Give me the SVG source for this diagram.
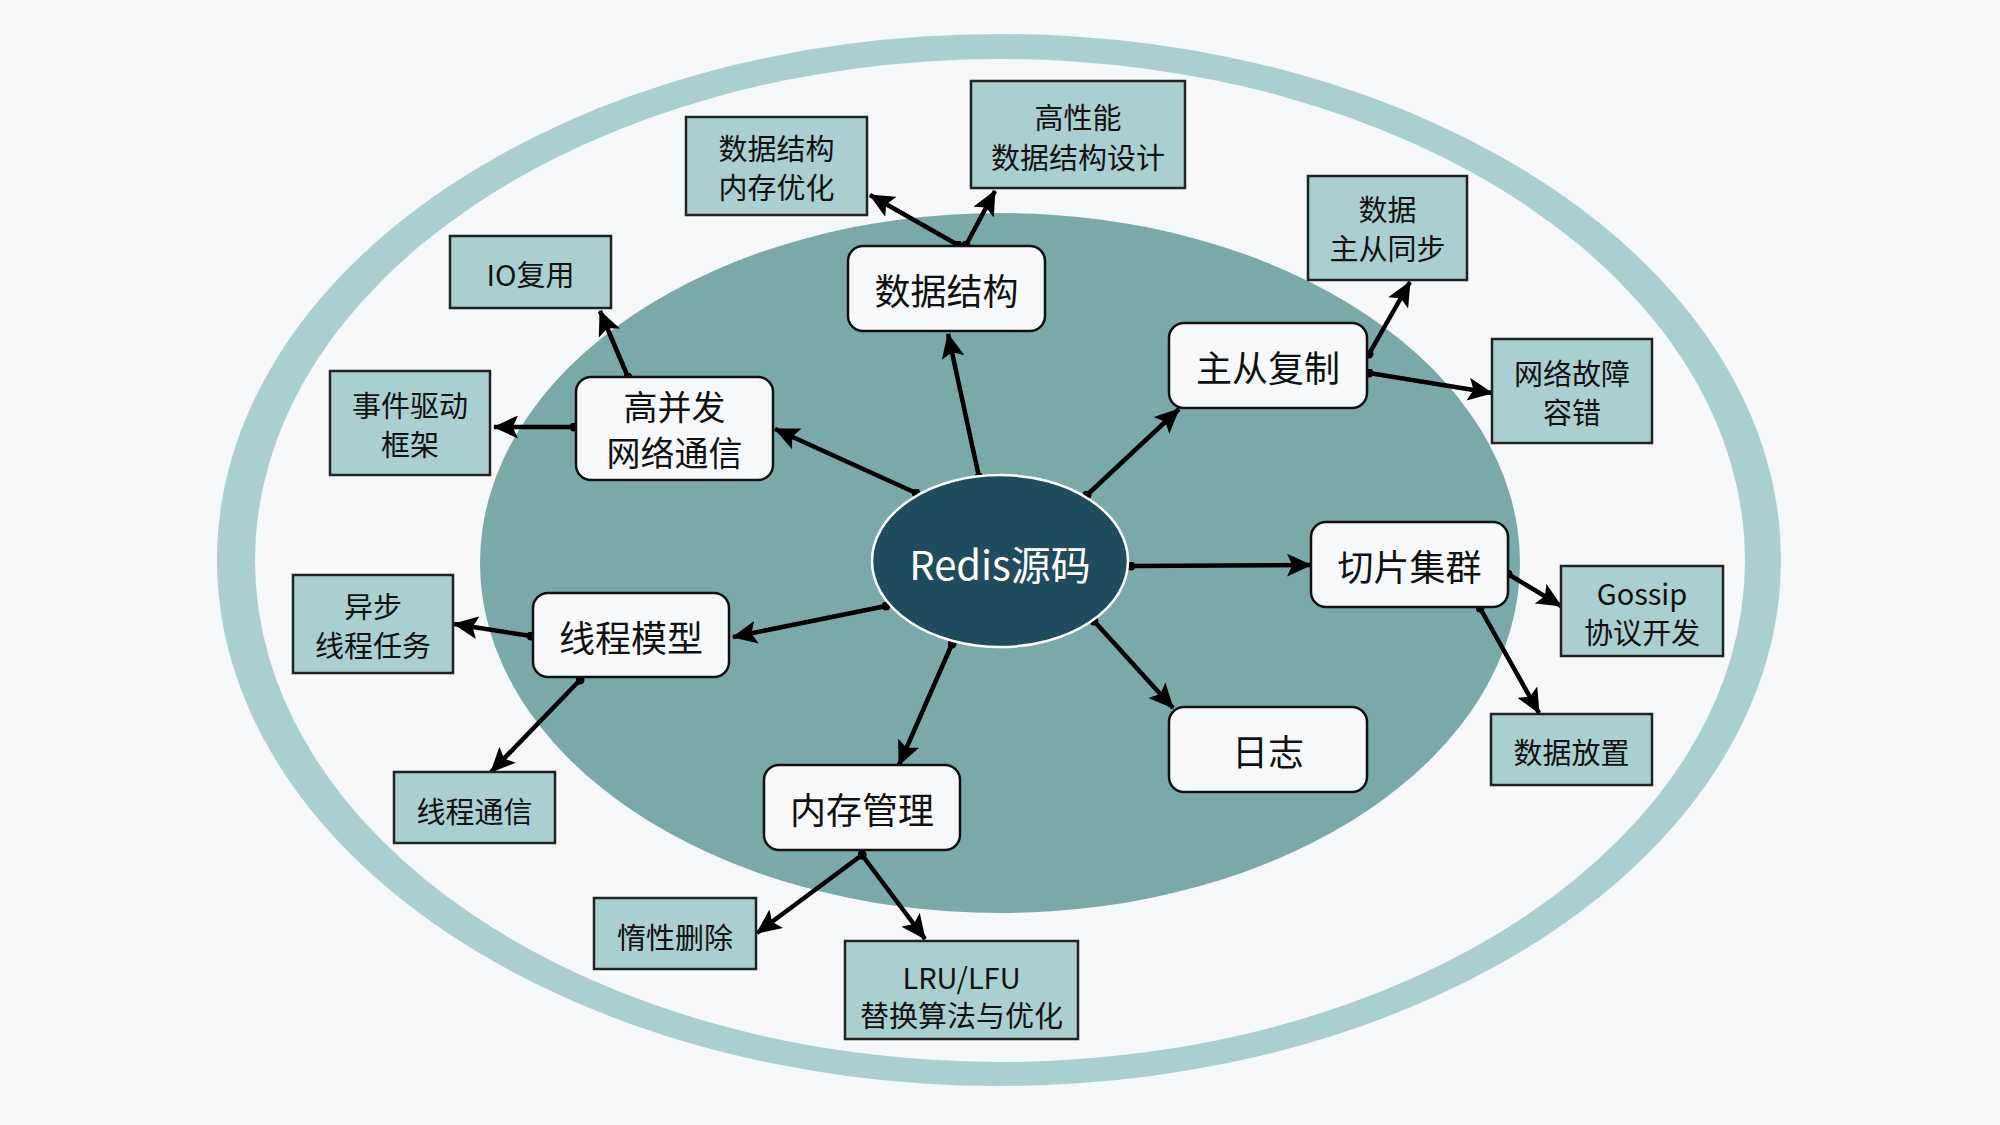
<svg xmlns="http://www.w3.org/2000/svg" width="2000" height="1125" viewBox="0 0 2000 1125">
<defs>
<marker id="arr" viewBox="0 0 24 22" refX="23" refY="11" markerWidth="25" markerHeight="23" markerUnits="userSpaceOnUse" orient="auto">
<path d="M0,0 L24,11 L0,22 L5,11 z" fill="#000"/>
</marker>
<marker id="dot" viewBox="0 0 10 10" refX="5" refY="5" markerWidth="9" markerHeight="9" markerUnits="userSpaceOnUse">
<circle cx="5" cy="5" r="5" fill="#000"/>
</marker>
<style>
.main rect{fill:#f6f8f9;stroke:#111;stroke-width:2.5}
.leaf rect{fill:#aacfd0;stroke:#222;stroke-width:2.5}
text{font-family:"Noto Sans CJK SC","Noto Sans",sans-serif;text-anchor:middle;dominant-baseline:central;fill:#111}
.main text{font-size:36px}
.main text.two{font-size:34px}
.leaf text{font-size:29px}
#edges line{stroke:#000;stroke-width:4.5;marker-end:url(#arr);marker-start:url(#dot)}
</style>
</defs>
<rect x="0" y="0" width="2000" height="1125" fill="#f5f7f8"/>
<ellipse cx="999" cy="560" rx="782" ry="526" fill="#aacfd0"/>
<ellipse cx="1000" cy="560.5" rx="745" ry="501.5" fill="#f5f7f8"/>
<ellipse cx="1000" cy="563" rx="520" ry="350" fill="#7aa9aa"/>

<g id="edges">
<line x1="979" y1="477" x2="948" y2="334"/>
<line x1="916" y1="493" x2="775" y2="429"/>
<line x1="628" y1="377" x2="600" y2="311"/>
<line x1="574" y1="427" x2="494" y2="427"/>
<line x1="958" y1="245" x2="870" y2="195"/>
<line x1="966" y1="245" x2="995" y2="191"/>
<line x1="1087" y1="495" x2="1179" y2="409"/>
<line x1="1369" y1="354" x2="1410" y2="282"/>
<line x1="1369" y1="373" x2="1492" y2="393"/>
<line x1="1131" y1="566" x2="1311" y2="565"/>
<line x1="1508" y1="574" x2="1561" y2="606"/>
<line x1="1480" y1="608" x2="1539" y2="713"/>
<line x1="1094" y1="621" x2="1173" y2="708"/>
<line x1="886" y1="606" x2="733" y2="637"/>
<line x1="531" y1="636" x2="454" y2="624"/>
<line x1="580" y1="680" x2="491" y2="772"/>
<line x1="952" y1="644" x2="899" y2="765"/>
<line x1="862" y1="855" x2="757" y2="933"/>
<line x1="862" y1="855" x2="925" y2="939"/>
</g>

<g id="center">
<ellipse cx="1000" cy="561" rx="128" ry="86" fill="#1f4d5e" stroke="#ffffff" stroke-width="2.5"/>
<text x="1000" y="563" style="font-size:40px;fill:#ffffff">Redis源码</text>
</g>

<g id="n-datastruct" class="main"><rect x="848" y="246" width="197" height="85" rx="15"/><text x="946.5" y="289">数据结构</text></g>
<g id="n-network" class="main"><rect x="576" y="377" width="197" height="103" rx="15"/><text class="two" x="674.5" y="405">高并发</text><text class="two" x="674.5" y="451">网络通信</text></g>
<g id="n-replication" class="main"><rect x="1169" y="323" width="198" height="85" rx="15"/><text x="1268" y="366">主从复制</text></g>
<g id="n-cluster" class="main"><rect x="1311" y="522" width="197" height="85" rx="15"/><text x="1409.5" y="565">切片集群</text></g>
<g id="n-log" class="main"><rect x="1169" y="707" width="198" height="85" rx="15"/><text x="1268" y="750">日志</text></g>
<g id="n-thread" class="main"><rect x="533" y="593" width="196" height="84" rx="15"/><text x="631" y="636">线程模型</text></g>
<g id="n-memory" class="main"><rect x="764" y="765" width="196" height="85" rx="15"/><text x="862" y="808">内存管理</text></g>

<g id="l-dsmem" class="leaf"><rect x="686" y="117" width="181" height="98"/><text x="776.5" y="147">数据结构</text><text x="776.5" y="186">内存优化</text></g>
<g id="l-dsdesign" class="leaf"><rect x="971" y="81" width="214" height="107"/><text x="1078" y="116">高性能</text><text x="1078" y="156">数据结构设计</text></g>
<g id="l-io" class="leaf"><rect x="450" y="236" width="161" height="72"/><text x="530.5" y="273">IO复用</text></g>
<g id="l-event" class="leaf"><rect x="330" y="371" width="160" height="104"/><text x="410" y="404">事件驱动</text><text x="410" y="443">框架</text></g>
<g id="l-sync" class="leaf"><rect x="1308" y="176" width="159" height="104"/><text x="1387.5" y="208">数据</text><text x="1387.5" y="247">主从同步</text></g>
<g id="l-fault" class="leaf"><rect x="1492" y="339" width="160" height="104"/><text x="1572" y="372">网络故障</text><text x="1572" y="411">容错</text></g>
<g id="l-gossip" class="leaf"><rect x="1561" y="566" width="162" height="90"/><text x="1642" y="592">Gossip</text><text x="1642" y="631">协议开发</text></g>
<g id="l-place" class="leaf"><rect x="1491" y="714" width="161" height="71"/><text x="1571.5" y="751">数据放置</text></g>
<g id="l-async" class="leaf"><rect x="293" y="575" width="160" height="98"/><text x="373" y="605">异步</text><text x="373" y="644">线程任务</text></g>
<g id="l-tcomm" class="leaf"><rect x="394" y="772" width="161" height="71"/><text x="474.5" y="810">线程通信</text></g>
<g id="l-lazy" class="leaf"><rect x="594" y="898" width="162" height="71"/><text x="675" y="936">惰性删除</text></g>
<g id="l-lru" class="leaf"><rect x="845" y="941" width="233" height="98"/><text x="961.5" y="976">LRU/LFU</text><text x="961.5" y="1014">替换算法与优化</text></g>
</svg>
